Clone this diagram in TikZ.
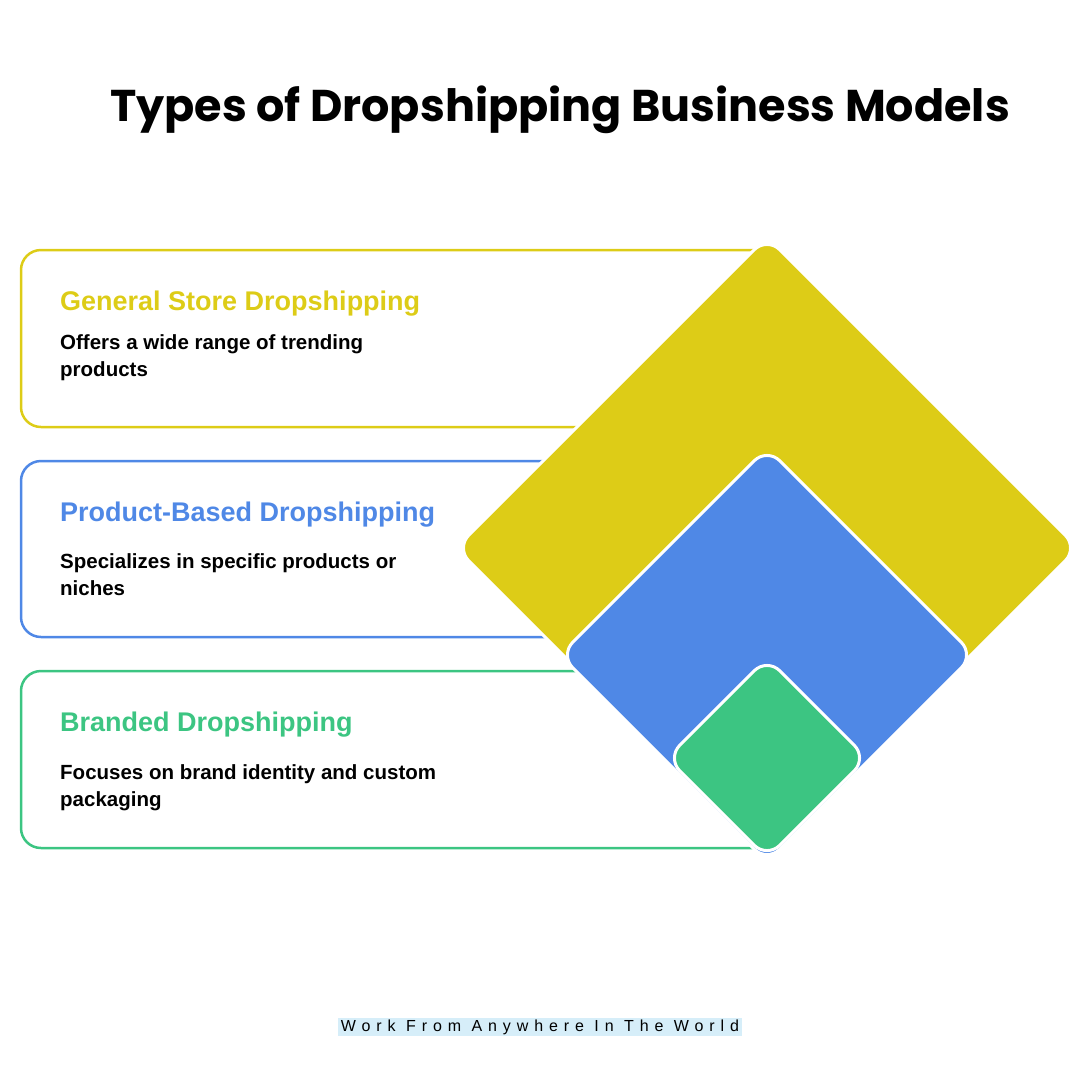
\documentclass[tikz,border=0pt]{standalone}
\usepackage{fontspec}
\setmainfont{Liberation Sans}
\newfontfamily\titlefont{Poppins}
\definecolor{cy}{HTML}{DDCC17}
\definecolor{cb}{HTML}{4F88E6}
\definecolor{cg}{HTML}{3CC582}
\definecolor{cf}{HTML}{D6EEF9}
\begin{document}
\begin{tikzpicture}[x=1pt,y=-1pt,
  card/.style={draw=#1,line width=2.5pt,rounded corners=20pt},
  head/.style={anchor=west,inner sep=0pt,font=\fontsize{27}{30}\selectfont\bfseries,text=#1},
  desc/.style={anchor=north west,font=\fontsize{20.5}{27}\selectfont\bfseries,align=left,inner sep=0pt},
  dia/.style={fill=#1,draw=white,line width=3pt,rounded corners=18pt}]
\useasboundingbox (0,0) rectangle (1080,1080);
\node[font=\titlefont\fontsize{44.5}{50}\selectfont\bfseries] (title) at (560,110) {Types of Dropshipping Business Models};
\draw[card=cy] (760,250) -- (21,250) -- (21,427) -- (620,427);
\draw[card=cb] (580,461) -- (21,461) -- (21,637) -- (580,637);
\draw[card=cg] (620,671) -- (21,671) -- (21,848) -- (770,848);
\node[head=cy] (h1) at (60,304) {General Store Dropshipping};
\node[desc] (d1) at (60,334) {Offers a wide range of trending\\products};
\node[head=cb] (h2) at (60,515) {Product-Based Dropshipping};
\node[desc] (d2) at (60,553) {Specializes in specific products or\\niches};
\node[head=cg] (h3) at (60,725) {Branded Dropshipping};
\node[desc] (d3) at (60,764) {Focuses on brand identity and custom\\packaging};
\draw[dia=cy] (767,237) -- (1078,548) -- (767,859) -- (456,548) -- cycle;
\draw[dia=cb] (767,448) -- (974,655) -- (767,862) -- (560,655) -- cycle;
\draw[dia=cg] (767,658) -- (867,758) -- (767,858) -- (667,758) -- cycle;
\node[fill=cf,inner xsep=3pt,inner ysep=2pt,font=\fontsize{16}{18}\selectfont\addfontfeature{LetterSpace=37}] (foot) at (540,1027) {Work From Anywhere In The World};
\end{tikzpicture}
\end{document}
